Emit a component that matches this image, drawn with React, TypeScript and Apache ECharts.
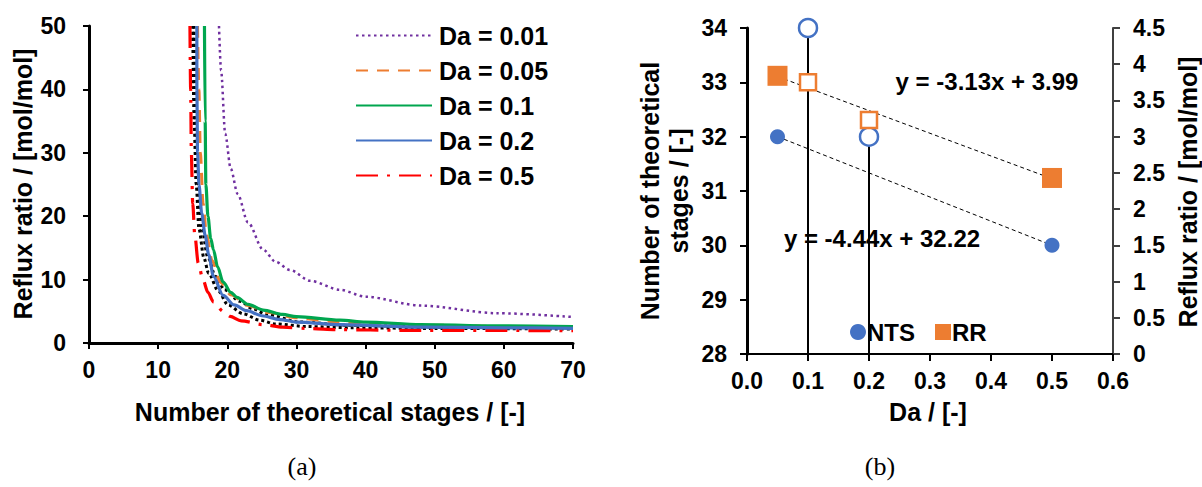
import React, { useEffect, useRef } from "react";
import * as echarts from "echarts";

// ---------- Chart (a): reflux ratio vs number of theoretical stages ----------
const legendNames = ["Da = 0.01", "Da = 0.05", "Da = 0.1", "Da = 0.2", "Da = 0.5"];
const xTicksA = [0, 10, 20, 30, 40, 50, 60, 70];

const curveDa001: number[][] = [
  [18.8, 50], [19.1, 43], [19.7, 33], [20.5, 27.5], [21.5, 23.5], [23, 19], [25.2, 14.7],
  [27, 12.8], [29.1, 11.5], [32, 9.8], [36.3, 8.4], [40, 7.3], [48, 5.9], [59, 4.7], [70, 4.1],
];
const curveDa005: number[][] = [
  [15.7, 50], [15.9, 40], [16.1, 30], [16.5, 22], [17.0, 17], [17.8, 13], [19, 9.6], [20.5, 7.6],
  [23, 5.9], [26, 4.8], [30, 4.0], [35, 3.4], [40, 3.1], [50, 2.8], [60, 2.6], [70, 2.5],
];
const curveDa01: number[][] = [
  [16.7, 50], [16.8, 35], [16.9, 25], [17.2, 20], [17.6, 16.5], [18, 14.7], [18.6, 12], [19.4, 9.6],
  [20.5, 8.0], [21.4, 7.2], [23, 6.1], [25.2, 5.2], [28, 4.5], [30, 4.15], [36.3, 3.6], [40, 3.3],
  [48, 2.9], [60, 2.7], [70, 2.6],
];
const curveDa02: number[][] = [
  [15.6, 50], [15.6, 40], [15.7, 30], [15.9, 25], [16.3, 20.5], [16.8, 17], [17.3, 14], [18.0, 10.5],
  [19.4, 7.5], [21, 6.0], [22.8, 5.1], [25, 4.3], [27.6, 3.7], [30, 3.3], [36.3, 2.9], [48, 2.5],
  [60, 2.4], [70, 2.3],
];
const curveDa05: number[][] = [
  [14.6, 50], [14.7, 40], [14.8, 30], [15.0, 22], [15.3, 17], [15.8, 12.6], [16.5, 9.9], [17.2, 8.0],
  [18.0, 6.5], [19.4, 5.0], [20.4, 4.2], [22, 3.5], [25.2, 2.9], [28, 2.5], [31.5, 2.3], [36.3, 2.1],
  [45, 2.0], [70, 1.95],
];
const curveBlackA: number[][] = [
  [15.0, 50], [15.2, 35], [15.5, 25], [15.9, 18], [16.6, 13.5], [17.3, 11], [18.7, 8.2], [20.1, 6.0],
  [22.3, 4.6], [24.7, 3.6], [27, 3.0], [31.5, 2.6], [38, 2.4], [50, 2.3], [70, 2.2],
];
const curveBlackB: number[][] = [
  [15.2, 50], [15.4, 35], [15.8, 25], [16.3, 18], [17.2, 13.5], [18.3, 10.5], [19.6, 8.4], [21.8, 6.6],
  [23.7, 5.4], [25.7, 4.5], [30.5, 3.3], [37.7, 2.8], [50, 2.5], [70, 2.4],
];

// ---------- Chart (b): NTS and RR vs Da ----------
const daFilled = [0.05, 0.5];
const ntsFilled = [32, 30];
const rrFilled = [3.84, 2.43];
const daHollow = [0.1, 0.2];
const ntsHollow = [34, 32];
const rrHollow = [3.75, 3.23];
const daTrend = [0.05, 0.5];
const ntsTrend = [32.0, 30.0];
const rrTrend = [3.83, 2.42];

const FONT = "'Liberation Sans', Arial, sans-serif";
const BLUE = "#4472C4";
const ORANGE = "#ED7D31";
const GREEN = "#00A64F";
const PURPLE = "#7030A0";
const RED = "#FF0000";

function lineSeries(name: string, data: number[][], color: string, type: any, width = 3) {
  return {
    type: "line",
    name,
    xAxisIndex: 0,
    yAxisIndex: 0,
    data,
    symbol: "none",
    smooth: 0.3,
    smoothMonotone: "x",
    lineStyle: { color, width, type, cap: "butt" },
    itemStyle: { color },
    z: 3,
  };
}

export default function App() {
  const ref = useRef<HTMLDivElement>(null);
  useEffect(() => {
    document.body.style.margin = "0";
    const chart = echarts.init(ref.current!, null, { renderer: "svg" });
    const labelStyle = { fontFamily: FONT, fontWeight: "bold", fontSize: 23, color: "#000" };
    const option: any = {
      animation: false,
      backgroundColor: "#fff",
      grid: [
        { left: 89, top: 26, width: 484, height: 317 },
        { left: 747, top: 28, width: 366, height: 326 },
      ],
      xAxis: [
        {
          gridIndex: 0, type: "value", min: 0, max: 70, interval: 10,
          axisLine: { show: true, onZero: false, lineStyle: { color: "#000", width: 3 } },
          axisTick: { show: true, length: 6, lineStyle: { color: "#000", width: 2 } },
          axisLabel: { ...labelStyle, margin: 15, formatter: (v: number) => (xTicksA.includes(v) ? String(v) : "") },
          splitLine: { show: false },
        },
        {
          gridIndex: 1, type: "value", min: 0, max: 0.6, interval: 0.1,
          axisLine: { show: true, onZero: false, lineStyle: { color: "#000", width: 2 } },
          axisTick: { show: true, length: 7, lineStyle: { color: "#000", width: 2 } },
          axisLabel: { ...labelStyle, margin: 15, formatter: (v: number) => v.toFixed(1) },
          splitLine: { show: false },
        },
      ],
      yAxis: [
        {
          gridIndex: 0, type: "value", min: 0, max: 50, interval: 10,
          axisLine: { show: true, lineStyle: { color: "#000", width: 3 } },
          axisTick: { show: true, length: 6, lineStyle: { color: "#000", width: 2 } },
          axisLabel: { ...labelStyle, margin: 23 },
          splitLine: { show: false },
        },
        {
          gridIndex: 1, type: "value", min: 28, max: 34, interval: 1,
          axisLine: { show: true, lineStyle: { color: "#000", width: 3 } },
          axisTick: { show: true, length: 7, lineStyle: { color: "#000", width: 2 } },
          axisLabel: { ...labelStyle, margin: 20 },
          splitLine: { show: false },
        },
        {
          gridIndex: 1, type: "value", position: "right", min: 0, max: 4.5, interval: 0.5,
          alignTicks: false,
          axisLine: { show: true, lineStyle: { color: "#404040", width: 2 } },
          axisTick: { show: true, length: 7, lineStyle: { color: "#404040", width: 2 } },
          axisLabel: { ...labelStyle, margin: 20 },
          splitLine: { show: false },
        },
      ],
      legend: [
        {
          data: legendNames,
          orient: "vertical",
          left: 355,
          top: 23,
          padding: 0,
          itemWidth: 76,
          itemHeight: 14,
          itemGap: 10,
          itemStyle: { opacity: 0 },
          textStyle: { fontFamily: FONT, fontWeight: "bold", fontSize: 25, color: "#000", padding: [0, 0, 0, 2] },
        },
        {
          data: [
            { name: "NTS", icon: "circle" },
            { name: "RR", icon: "rect" },
          ],
          orient: "horizontal",
          left: 850,
          top: 320,
          padding: 0,
          itemWidth: 16,
          itemHeight: 16,
          itemGap: 20,
          textStyle: { fontFamily: FONT, fontWeight: "bold", fontSize: 24, color: "#000", padding: [0, 0, 0, -4] },
        },
      ],
      series: [
        lineSeries("Da = 0.01", curveDa001, PURPLE, [2.5, 3.5], 2.5),
        lineSeries("black A", curveBlackA, "#000", [3, 3], 3),
        lineSeries("black B", curveBlackB, "#000", [3, 3], 3),
        lineSeries("Da = 0.05", curveDa005, ORANGE, [12, 9], 3),
        lineSeries("Da = 0.5", curveDa05, RED, [22, 9, 3, 9], 3.2),
        lineSeries("Da = 0.1", curveDa01, GREEN, "solid", 3.2),
        lineSeries("Da = 0.2", curveDa02, BLUE, "solid", 3.2),
        // drop lines for hollow points
        ...daHollow.map((d, i) => ({
          type: "line",
          name: "drop" + i,
          xAxisIndex: 1,
          yAxisIndex: 1,
          data: [[d, 28], [d, ntsHollow[i]]],
          symbol: "none",
          lineStyle: { color: "#000", width: 2 },
          z: 2,
        })),
        {
          type: "line", name: "NTS trend", xAxisIndex: 1, yAxisIndex: 1,
          data: daTrend.map((d, i) => [d, ntsTrend[i]]),
          symbol: "none", lineStyle: { color: "#000", width: 1, type: [4, 3] }, z: 3,
        },
        {
          type: "line", name: "RR trend", xAxisIndex: 1, yAxisIndex: 2,
          data: daTrend.map((d, i) => [d, rrTrend[i]]),
          symbol: "none", lineStyle: { color: "#000", width: 1, type: [4, 3] }, z: 3,
        },
        {
          type: "scatter", name: "NTS", xAxisIndex: 1, yAxisIndex: 1,
          data: daFilled.map((d, i) => [d, ntsFilled[i]]),
          symbol: "circle", symbolSize: 15, itemStyle: { color: BLUE, opacity: 1 }, z: 4,
        },
        {
          type: "scatter", name: "RR", xAxisIndex: 1, yAxisIndex: 2,
          data: daFilled.map((d, i) => [d, rrFilled[i]]),
          symbol: "rect", symbolSize: 20, itemStyle: { color: ORANGE, opacity: 1 }, z: 4,
        },
        {
          type: "scatter", name: "NTS hollow", xAxisIndex: 1, yAxisIndex: 1,
          data: daHollow.map((d, i) => [d, ntsHollow[i]]),
          symbol: "circle", symbolSize: 18, clip: false,
          itemStyle: { color: "#fff", borderColor: BLUE, borderWidth: 2.5, opacity: 1 }, z: 5,
        },
        {
          type: "scatter", name: "RR hollow", xAxisIndex: 1, yAxisIndex: 2,
          data: daHollow.map((d, i) => [d, rrHollow[i]]),
          symbol: "rect", symbolSize: 16, clip: false,
          itemStyle: { color: "#fff", borderColor: ORANGE, borderWidth: 2.5, opacity: 1 }, z: 5,
        },
      ],
      graphic: [
        {
          type: "text", x: 23, y: 184, rotation: Math.PI / 2,
          style: { text: "Reflux ratio / [mol/mol]", font: `bold 25px ${FONT}`, fill: "#000", align: "center", verticalAlign: "middle" },
        },
        {
          type: "text", x: 330, y: 412,
          style: { text: "Number of theoretical stages / [-]", font: `bold 25px ${FONT}`, fill: "#000", align: "center", verticalAlign: "middle" },
        },
        {
          type: "text", x: 302, y: 466,
          style: { text: "(a)", font: `26px 'Liberation Serif', 'Times New Roman', serif`, fill: "#000", align: "center", verticalAlign: "middle" },
        },
        {
          type: "text", x: 664, y: 191, rotation: Math.PI / 2,
          style: { text: "Number of theoretical\nstages / [-]", font: `bold 25px ${FONT}`, lineHeight: 29, fill: "#000", align: "center", verticalAlign: "middle" },
        },
        {
          type: "text", x: 1188, y: 192, rotation: Math.PI / 2,
          style: { text: "Reflux ratio / [mol/mol]", font: `bold 25px ${FONT}`, fill: "#000", align: "center", verticalAlign: "middle" },
        },
        {
          type: "text", x: 928, y: 412,
          style: { text: "Da / [-]", font: `bold 25px ${FONT}`, fill: "#000", align: "center", verticalAlign: "middle" },
        },
        {
          type: "text", x: 880, y: 466,
          style: { text: "(b)", font: `26px 'Liberation Serif', 'Times New Roman', serif`, fill: "#000", align: "center", verticalAlign: "middle" },
        },
        {
          type: "text", x: 987, y: 81,
          style: { text: "y = -3.13x + 3.99", font: `bold 24px ${FONT}`, fill: "#000", align: "center", verticalAlign: "middle" },
        },
        {
          type: "text", x: 882, y: 238,
          style: { text: "y = -4.44x + 32.22", font: `bold 24px ${FONT}`, fill: "#000", align: "center", verticalAlign: "middle" },
        },
      ],
    };
    chart.setOption(option);
    return () => chart.dispose();
  }, []);
  return <div ref={ref} style={{ width: 1202, height: 487, background: "#fff" }} />;
}
